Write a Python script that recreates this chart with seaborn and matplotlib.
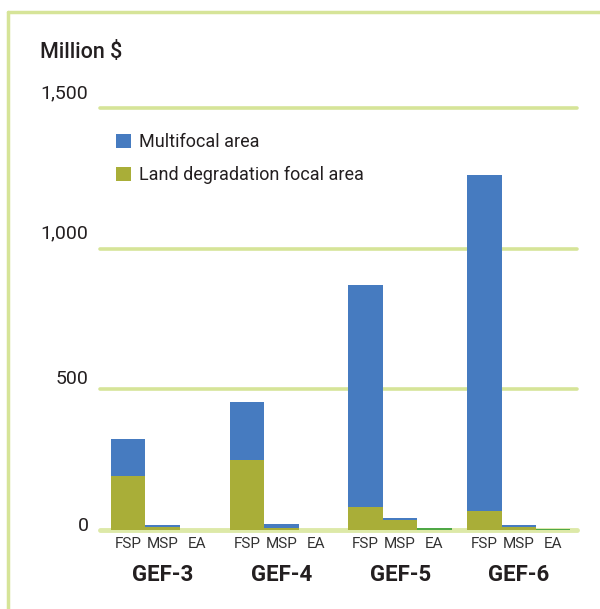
import numpy as np
import pandas as pd
import matplotlib
matplotlib.use("Agg")
import matplotlib.pyplot as plt
from matplotlib.patches import Patch
from matplotlib.lines import Line2D
from matplotlib.transforms import offset_copy
import seaborn as sns

# --- data (million $) ---
periods = ["GEF-3", "GEF-4", "GEF-5", "GEF-6"]
modalities = ["FSP", "MSP", "EA"]
multifocal_fsp = [132, 206, 790, 1194]
landdeg_fsp = [191, 248, 82, 68]
multifocal_msp = [7, 16, 10, 10]
landdeg_msp = [12, 6, 34, 9]
multifocal_ea = [0, 0, 0, 0]
landdeg_ea = [0, 0, 6, 5]
y_ticks = [0, 500, 1000, 1500]
y_tick_labels = ["0", "500", "1,000", "1,500"]
legend_labels = ["Multifocal area", "Land degradation focal area"]

BLUE = "#467bc0"
OLIVE = "#a9ae38"
GREEN = "#4fa846"
FRAME = "#d6e498"
TEXT = "#231f20"

sns.set_theme(style="white")
plt.rcParams["font.family"] = ["Roboto", "DejaVu Sans"]

# long table, one row per bar
bar_w = 0.29
rows = []
for g, period in enumerate(periods):
    mf = [multifocal_fsp[g], multifocal_msp[g], multifocal_ea[g]]
    ld = [landdeg_fsp[g], landdeg_msp[g], landdeg_ea[g]]
    for k, mod in enumerate(modalities):
        rows.append({"period": period, "modality": mod,
                     "pos": round(g + (k - 1) * bar_w, 3),
                     "multifocal": mf[k], "landdeg": ld[k],
                     "total": mf[k] + ld[k]})
df = pd.DataFrame(rows)

fig = plt.figure(figsize=(6.0, 6.09), dpi=100)
ax = fig.add_axes([100 / 600, 1 - 530 / 609, 477 / 600, 422 / 609])

# stacked bars: total first (blue), land degradation on top (olive)
top_pal = {"FSP": BLUE, "MSP": BLUE, "EA": GREEN}
low_pal = {"FSP": OLIVE, "MSP": OLIVE, "EA": GREEN}
sns.barplot(data=df, x="pos", y="total", hue="modality", palette=top_pal,
            native_scale=True, dodge=False, width=1, linewidth=0, saturation=1,
            legend=False, ax=ax, zorder=3)
sns.barplot(data=df, x="pos", y="landdeg", hue="modality", palette=low_pal,
            native_scale=True, dodge=False, width=1, linewidth=0, saturation=1,
            legend=False, ax=ax, zorder=3)

ax.set_xlim(-0.527, 3.49)
ax.set_ylim(0, 1500)
for s in ax.spines.values():
    s.set_visible(False)

# gridlines
for v in y_ticks[1:]:
    ax.axhline(v, color=FRAME, lw=2.6, zorder=1, clip_on=False)
ax.axhline(0, color="#dde9a8", lw=3.5, zorder=1, clip_on=False)

# y labels (sit a little above their lines)
ax.set_yticks([])
offsets = [4, 10, 15, 15]
for v, lab, dy in zip(y_ticks, y_tick_labels, offsets):
    tr = offset_copy(ax.get_yaxis_transform(), fig=fig, x=0, y=dy, units="dots")
    ax.text(-0.024, v, lab, transform=tr, ha="right", va="center",
            fontsize=14, color=TEXT)

# x labels
ax.set_xticks(df["pos"].tolist())
ax.set_xticklabels(df["modality"].tolist(), fontsize=11, color="#333333")
ax.tick_params(axis="x", length=0, pad=5)
ax.set_xlabel("")
ax.set_ylabel("")
for g, period in enumerate(periods):
    ax.text(g, -0.107, period, transform=ax.get_xaxis_transform(),
            ha="center", va="center", fontsize=16, fontweight="bold", color=TEXT)

fig.text(40 / 600, 1 - 53 / 609, "Million $", fontsize=15.5, fontweight="medium",
         color=TEXT, ha="left", va="center")

handles = [Patch(facecolor=BLUE, edgecolor="none"),
           Patch(facecolor=OLIVE, edgecolor="none")]
ax.legend(handles, legend_labels, loc="upper left",
          bbox_to_anchor=(116 / 600, 1 - 133 / 609), bbox_transform=fig.transFigure,
          frameon=False, fontsize=13, handlelength=0.85, handleheight=0.85,
          handletextpad=0.45, labelspacing=0.85, borderpad=0, borderaxespad=0,
          labelcolor=TEXT)

# frame on top and left
fig.add_artist(Line2D([8 / 600, 8 / 600], [0, 1 - 12 / 609], color=FRAME, lw=2.5,
                      transform=fig.transFigure))
fig.add_artist(Line2D([8 / 600, 1], [1 - 12 / 609, 1 - 12 / 609], color=FRAME, lw=2.5,
                      transform=fig.transFigure))

fig.savefig("out.png", dpi=100)
